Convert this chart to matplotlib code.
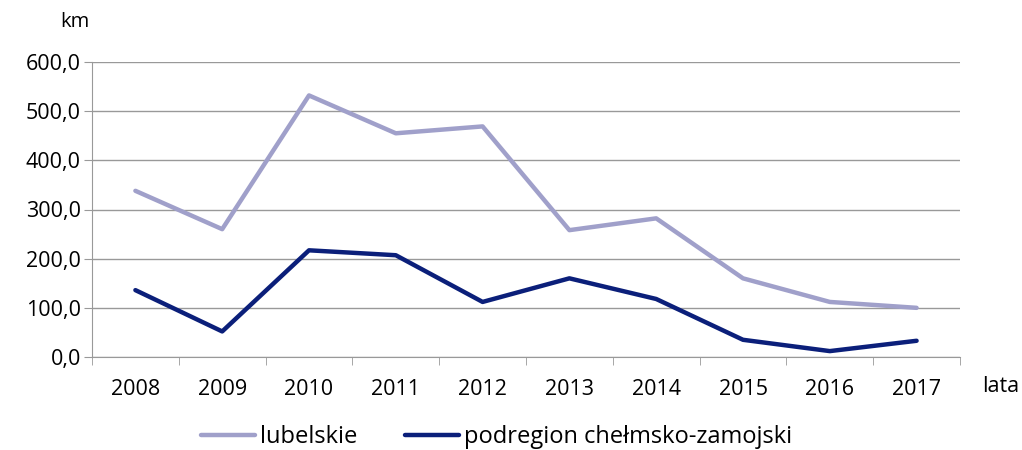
import numpy as np
import matplotlib.pyplot as plt

plt.rcParams['font.family'] = ['Open Sans', 'DejaVu Sans']

years = ["2008", "2009", "2010", "2011", "2012", "2013", "2014", "2015", "2016", "2017"]
lubelskie = [338, 260, 532, 455, 469, 258, 282, 160, 112, 100]
podregion = [136, 52, 217, 207, 112, 160, 118, 35, 12, 33]
yticks = [0, 100, 200, 300, 400, 500, 600]

fig = plt.figure(figsize=(10.22, 4.5), dpi=100)
ax = fig.add_axes([92 / 1022, 1 - 357 / 450, 868 / 1022, 295 / 450])

x = np.arange(len(years))
ax.plot(x, lubelskie, color="#A0A0CA", lw=3.2, label="lubelskie", solid_capstyle="round")
ax.plot(x, podregion, color="#0B1F7A", lw=3.2, label="podregion chełmsko-zamojski",
        solid_capstyle="round")

ax.set_xlim(-0.5, len(years) - 0.5)
ax.set_ylim(0, 600)
ax.set_yticks(yticks)
ax.set_yticklabels([f"{v:.1f}".replace(".", ",") for v in yticks], fontsize=15.5)
ax.set_xticks(x)
ax.set_xticklabels(years, fontsize=15.5)
ax.set_xticks(np.arange(len(years) + 1) - 0.5, minor=True)
ax.tick_params(axis="x", which="major", length=0, pad=16)
ax.tick_params(axis="x", which="minor", length=6, color="#999999")
ax.tick_params(axis="y", length=6, color="#999999", pad=2)
ax.grid(axis="y", color="#999999", lw=1)
ax.set_axisbelow(True)
for s in ["top", "right"]:
    ax.spines[s].set_visible(False)
ax.spines["left"].set_color("#999999")
ax.spines["bottom"].set_color("#999999")

fig.text(60 / 1022, 1 - 22 / 450, "km", fontsize=14.5, va="center")
fig.text(982 / 1022, 1 - 386 / 450, "lata", fontsize=15.5, va="center")

ax.legend(loc="center", bbox_to_anchor=(0.466, -0.272), ncol=2, frameon=False,
          fontsize=17, handlelength=2.3, handletextpad=0.2, columnspacing=2.0)

fig.savefig("out.png", dpi=100)
